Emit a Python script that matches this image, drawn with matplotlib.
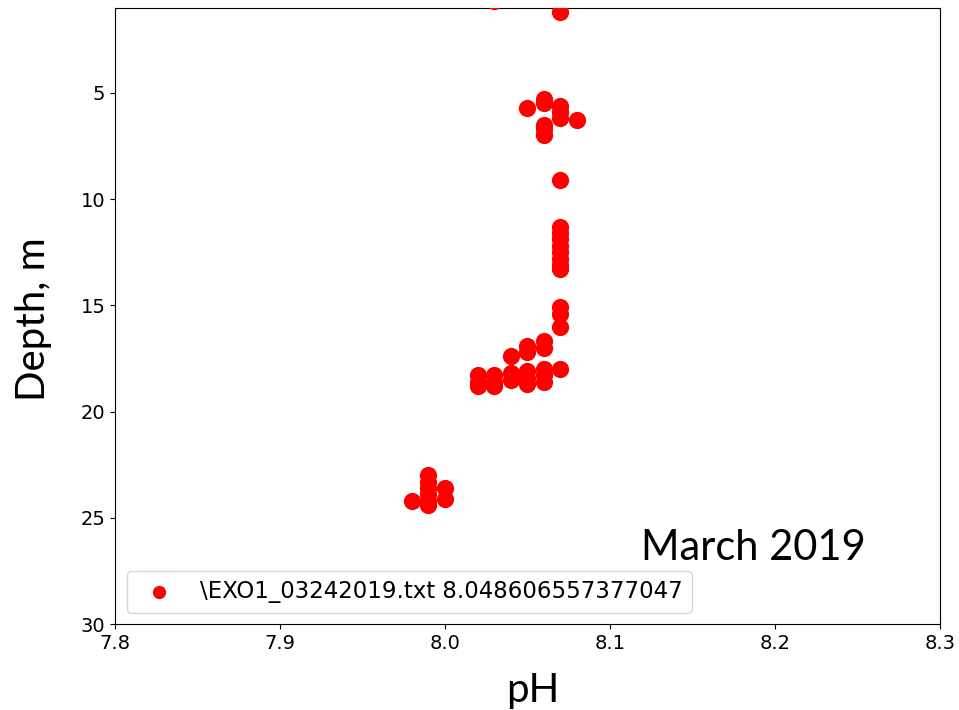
import matplotlib
matplotlib.use("Agg")
import matplotlib.pyplot as plt

# pH / depth readings
ph = [8.03, 8.07,
      8.06, 8.06, 8.05, 8.07, 8.07, 8.07, 8.08, 8.06, 8.06, 8.06,
      8.07,
      8.07, 8.07, 8.07, 8.07, 8.07, 8.07, 8.07, 8.07,
      8.07, 8.07, 8.07,
      8.06, 8.06, 8.05, 8.05, 8.04,
      8.07,
      8.06, 8.06, 8.06, 8.05, 8.05, 8.05, 8.04, 8.04, 8.03, 8.03, 8.03, 8.02, 8.02, 8.02,
      7.98, 7.99, 7.99, 7.99, 7.99, 7.99, 7.99, 8.00, 8.00]
depth = [0.7, 1.2,
         5.3, 5.5, 5.7, 5.6, 5.9, 6.2, 6.3, 6.5, 6.7, 7.0,
         9.1,
         11.3, 11.6, 11.9, 12.2, 12.5, 12.8, 13.1, 13.3,
         15.1, 15.4, 16.0,
         16.7, 17.0, 16.9, 17.2, 17.4,
         18.0,
         18.0, 18.3, 18.6, 18.1, 18.4, 18.7, 18.2, 18.5, 18.3, 18.6, 18.8, 18.3, 18.6, 18.8,
         24.2, 23.0, 23.3, 23.6, 23.9, 24.2, 24.4, 23.6, 24.1]
series_label = "\\EXO1_03242019.txt 8.048606557377047"

fig = plt.figure(figsize=(9.59, 7.1), dpi=100)
ax = fig.add_axes([0.12, 0.121, 0.86, 0.868])

ax.scatter(ph, depth, s=130, color="red", label=series_label, zorder=3)
ax.set_xlim(7.8, 8.3)
ax.set_ylim(30, 1)
ax.set_yticks([5, 10, 15, 20, 25, 30])
ax.tick_params(labelsize=14)

leg = ax.legend(loc="lower left", fontsize=16.5, markerscale=0.75)

# labels added on top of the plot in a Calibri-like face
fig.text(0.035, 0.55, "Depth, m", rotation=90, ha="center", va="center",
         fontsize=29, family="Lato")
fig.text(0.556, 0.028, "pH", ha="center", va="center", fontsize=29, family="Lato")
fig.text(0.668, 0.211, "March 2019", ha="left", va="baseline", fontsize=30, family="Lato")

fig.savefig("out.png", dpi=100)
